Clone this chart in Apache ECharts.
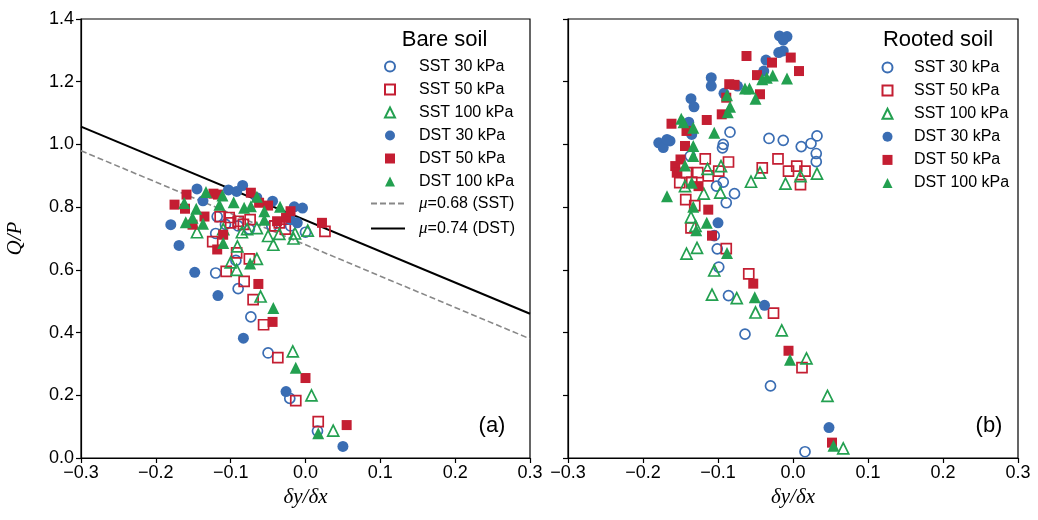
<!DOCTYPE html>
<html><head><meta charset="utf-8">
<script src="https://cdn.jsdelivr.net/npm/echarts@6/dist/echarts.min.js"></script>
<style>html,body{margin:0;padding:0;background:#fff}#c{width:1038px;height:520px}</style>
</head><body><div id="c"></div>
<script>
// ---------- data (δy/δx, Q/P) ----------
const bareSST30 = [[-0.118,0.77],[-0.12,0.716],[-0.107,0.745],[-0.09,0.74],[-0.075,0.73],[-0.045,0.74],[-0.02,0.74],[0.0,0.72],[-0.093,0.63],[-0.12,0.59],[-0.09,0.54],[-0.073,0.45],[-0.05,0.335],[-0.021,0.19],[0.016,0.086]];
const bareSST50 = [[-0.114,0.77],[-0.102,0.767],[-0.09,0.755],[-0.074,0.76],[-0.124,0.69],[-0.092,0.654],[-0.075,0.635],[-0.106,0.595],[-0.082,0.563],[-0.07,0.505],[-0.056,0.425],[-0.037,0.32],[-0.013,0.183],[0.017,0.116],[-0.041,0.74],[-0.027,0.73],[0.026,0.723],[-0.083,0.745],[-0.035,0.75],[-0.1,0.75]];
const bareSST100 = [[-0.145,0.72],[-0.091,0.675],[-0.065,0.635],[-0.1,0.624],[-0.092,0.60],[-0.06,0.515],[-0.078,0.73],[-0.065,0.733],[-0.05,0.708],[-0.043,0.68],[-0.035,0.715],[-0.014,0.716],[-0.016,0.70],[0.003,0.725],[-0.017,0.34],[0.008,0.2],[0.037,0.087],[-0.11,0.73],[-0.085,0.72]];
const bareDST30 = [[-0.18,0.744],[-0.169,0.678],[-0.145,0.858],[-0.148,0.592],[-0.117,0.518],[-0.083,0.382],[-0.026,0.212],[0.05,0.037],[-0.084,0.869],[-0.044,0.819],[-0.015,0.801],[-0.004,0.797],[-0.011,0.75],[-0.137,0.82],[-0.103,0.855],[-0.092,0.85],[-0.065,0.83],[-0.02,0.76]];
const bareDST50 = [[-0.175,0.808],[-0.159,0.84],[-0.161,0.795],[-0.151,0.744],[-0.123,0.843],[-0.117,0.84],[-0.118,0.665],[-0.11,0.712],[-0.073,0.846],[-0.062,0.814],[-0.05,0.805],[-0.038,0.755],[-0.026,0.766],[-0.02,0.787],[0.022,0.75],[-0.063,0.555],[-0.044,0.434],[0.0,0.255],[0.055,0.105],[-0.135,0.77]];
const bareDST100 = [[-0.162,0.813],[-0.146,0.795],[-0.133,0.848],[-0.16,0.752],[-0.151,0.766],[-0.137,0.747],[-0.111,0.837],[-0.115,0.808],[-0.096,0.816],[-0.082,0.798],[-0.073,0.803],[-0.065,0.833],[-0.055,0.787],[-0.055,0.76],[-0.034,0.801],[-0.11,0.686],[-0.074,0.62],[-0.043,0.478],[-0.013,0.288],[0.017,0.079]];
const rootSST30 = [[-0.084,1.039],[-0.093,1.0],[-0.094,0.989],[-0.032,1.019],[-0.013,1.013],[0.011,0.993],[0.024,1.003],[0.032,1.027],[0.031,0.971],[0.031,0.945],[-0.137,0.963],[-0.102,0.867],[-0.093,0.88],[-0.078,0.843],[-0.089,0.814],[-0.105,0.709],[-0.101,0.667],[-0.099,0.609],[-0.086,0.518],[-0.064,0.395],[-0.03,0.23],[0.016,0.02]];
const rootSST50 = [[-0.117,0.954],[-0.086,0.944],[-0.142,0.91],[-0.127,0.91],[-0.099,0.915],[-0.041,0.925],[-0.02,0.954],[-0.006,0.915],[0.005,0.931],[0.016,0.915],[0.01,0.872],[-0.151,0.878],[-0.143,0.824],[-0.131,0.805],[-0.136,0.734],[-0.089,0.668],[-0.059,0.587],[-0.026,0.462],[0.012,0.288],[-0.113,0.9],[-0.135,0.88]];
const rootSST100 = [[-0.114,0.922],[-0.096,0.931],[-0.056,0.881],[-0.044,0.91],[-0.01,0.875],[0.01,0.899],[0.032,0.907],[-0.144,0.867],[-0.119,0.843],[-0.097,0.846],[-0.136,0.768],[-0.128,0.67],[-0.142,0.652],[-0.105,0.598],[-0.108,0.521],[-0.075,0.51],[-0.05,0.464],[-0.015,0.407],[0.018,0.318],[0.046,0.198],[0.067,0.031],[-0.13,0.74]];
const rootDST30 = [[-0.018,1.346],[-0.008,1.344],[-0.013,1.333],[-0.019,1.293],[-0.013,1.298],[-0.036,1.269],[-0.039,1.234],[-0.074,1.186],[-0.109,1.213],[-0.109,1.186],[-0.092,1.163],[-0.136,1.146],[-0.132,1.12],[-0.139,1.071],[-0.135,1.032],[-0.179,1.005],[-0.173,0.99],[-0.164,1.011],[-0.168,1.016],[-0.1,0.75],[-0.038,0.487],[0.048,0.097]];
const rootDST50 = [[-0.062,1.282],[-0.028,1.261],[-0.003,1.277],[0.008,1.234],[-0.048,1.221],[-0.085,1.192],[-0.078,1.19],[-0.044,1.16],[-0.089,1.149],[-0.095,1.096],[-0.115,1.078],[-0.162,1.066],[-0.142,1.043],[-0.144,0.995],[-0.15,0.952],[-0.157,0.931],[-0.155,0.91],[-0.126,0.867],[-0.113,0.792],[-0.108,0.709],[-0.053,0.556],[-0.006,0.342],[0.052,0.049]];
const rootDST100 = [[-0.041,1.208],[-0.035,1.213],[-0.027,1.22],[-0.008,1.21],[-0.064,1.178],[-0.058,1.178],[-0.05,1.146],[-0.088,1.157],[-0.084,1.12],[-0.087,1.103],[-0.149,1.082],[-0.146,1.071],[-0.133,1.053],[-0.105,1.037],[-0.133,0.995],[-0.133,0.963],[-0.144,0.933],[-0.135,0.878],[-0.168,0.835],[-0.133,0.801],[-0.115,0.75],[-0.129,0.726],[-0.088,0.654],[-0.051,0.513],[-0.004,0.313],[0.054,0.039]];
const lineSST = [[-0.3,0.98],[0.3,0.38]];
const lineDST = [[-0.3,1.057],[0.3,0.46]];
const seriesNames = ['SST 30 kPa','SST 50 kPa','SST 100 kPa','DST 30 kPa','DST 50 kPa','DST 100 kPa'];
const lineNames = ['μ=0.68 (SST)','μ=0.74 (DST)'];
const panelTitles = ['Bare soil','Rooted soil'];
const panelLabels = ['(a)','(b)'];

// ---------- styles ----------
const BLUE='#3a6db3', RED='#c41e32', GREEN='#23a050';
const SANS='"Liberation Sans", Arial, sans-serif';
const SERIF='"Liberation Serif", "Times New Roman", serif';
const markerStyles = [
  {symbol:'circle', size:10, item:{color:'rgba(255,255,255,0)', borderColor:BLUE, borderWidth:1.7, opacity:1}},
  {symbol:'rect', size:10, item:{color:'rgba(255,255,255,0)', borderColor:RED, borderWidth:1.7, opacity:1}},
  {symbol:'triangle', size:11, item:{color:'rgba(255,255,255,0)', borderColor:GREEN, borderWidth:1.7, opacity:1}},
  {symbol:'circle', size:11, item:{color:BLUE, opacity:1}},
  {symbol:'rect', size:10, item:{color:RED, opacity:1}},
  {symbol:'triangle', size:12, item:{color:GREEN, opacity:1}}
];
const bare=[bareSST30,bareSST50,bareSST100,bareDST30,bareDST50,bareDST100];
const root=[rootSST30,rootSST50,rootSST100,rootDST30,rootDST50,rootDST100];

const fmt = v => (Math.abs(v)<1e-9 ? '0.0' : v.toFixed(1).replace('-','\u2212'));
function xAx(i){return {gridIndex:i,type:'value',min:-0.3,max:0.3,interval:0.1,
  name:'δy/δx',nameLocation:'middle',nameGap:28,
  nameTextStyle:{fontFamily:SERIF,fontStyle:'italic',fontSize:21,color:'#000'},
  axisLine:{show:true,onZero:false,lineStyle:{color:'#000',width:1.2}},
  axisTick:{show:true,inside:false,length:5,lineStyle:{color:'#000',width:1.2}},
  axisLabel:{formatter:fmt,fontFamily:SANS,fontSize:18,color:'#000',margin:6},
  splitLine:{show:false}};}
function yAx(i){return {gridIndex:i,type:'value',min:0,max:1.4,interval:0.2,
  name:i===0?'Q/P':'',nameLocation:'middle',nameGap:55,nameRotate:90,
  nameTextStyle:{fontFamily:SERIF,fontStyle:'italic',fontSize:21,color:'#000'},
  axisLine:{show:true,onZero:false,lineStyle:{color:'#000',width:1.2}},
  axisTick:{show:true,inside:false,length:5,lineStyle:{color:'#000',width:1.2}},
  axisLabel:{show:i===0,formatter:fmt,fontFamily:SANS,fontSize:18,color:'#000',margin:7},
  splitLine:{show:false}};}

const series=[];
[bare,root].forEach((set,p)=>{
  set.forEach((d,k)=>{
    const m=markerStyles[k];
    series.push({name:seriesNames[k],type:'scatter',xAxisIndex:p,yAxisIndex:p,data:d,
      symbol:m.symbol,symbolSize:m.size,itemStyle:m.item,z:k<3?2:3,silent:true});
  });
});
series.push({name:lineNames[0],type:'line',xAxisIndex:0,yAxisIndex:0,data:lineSST,symbol:'none',
  itemStyle:{color:'#888',opacity:0},
  lineStyle:{color:'#888',width:1.6,type:[6,3],opacity:1},z:1,silent:true});
series.push({name:lineNames[1],type:'line',xAxisIndex:0,yAxisIndex:0,data:lineDST,symbol:'none',
  itemStyle:{color:'#000',opacity:0},
  lineStyle:{color:'#000',width:2,opacity:1},z:1,silent:true});

const legFormatter = n => n.replace('μ','{i|μ}');
const legText = pad => ({fontFamily:SANS,fontSize:16,color:'#000',lineHeight:16,padding:[0,0,0,pad],
  rich:{i:{fontFamily:SERIF,fontStyle:'italic',fontSize:17,color:'#000'}}});

const chart=echarts.init(document.getElementById('c'),null,{renderer:'canvas'});
chart.setOption({
  animation:false,
  backgroundColor:'#fff',
  grid:[
    {left:81,right:508,top:19,bottom:62,show:true,borderColor:'#000',borderWidth:1.2,backgroundColor:'transparent'},
    {left:568,right:20,top:19,bottom:62,show:true,borderColor:'#000',borderWidth:1.2,backgroundColor:'transparent'}
  ],
  xAxis:[xAx(0),xAx(1)],
  yAxis:[yAx(0),yAx(1)],
  legend:[
    {data:seriesNames,orient:'vertical',left:384,top:58.5,padding:0,itemWidth:10,itemHeight:10,itemGap:7,
     selectedMode:false,textStyle:legText(19)},
    {data:lineNames,orient:'vertical',left:370,top:195,padding:0,itemWidth:34,itemHeight:10,itemGap:8,
     selectedMode:false,formatter:legFormatter,textStyle:legText(9)},
    {data:seriesNames,orient:'vertical',left:881.5,top:59.5,padding:0,itemWidth:10,itemHeight:10,itemGap:7.1,
     selectedMode:false,textStyle:legText(16.5)}
  ],
  graphic:[
    {type:'text',x:444.5,y:40,style:{text:panelTitles[0],font:'22px '+SANS,fill:'#000',textAlign:'center',textVerticalAlign:'middle'}},
    {type:'text',x:938,y:40,style:{text:panelTitles[1],font:'22px '+SANS,fill:'#000',textAlign:'center',textVerticalAlign:'middle'}},
    {type:'text',x:492,y:426,style:{text:panelLabels[0],font:'22px '+SANS,fill:'#000',textAlign:'center',textVerticalAlign:'middle'}},
    {type:'text',x:989,y:426,style:{text:panelLabels[1],font:'22px '+SANS,fill:'#000',textAlign:'center',textVerticalAlign:'middle'}}
  ],
  series:series
});
</script></body></html>
